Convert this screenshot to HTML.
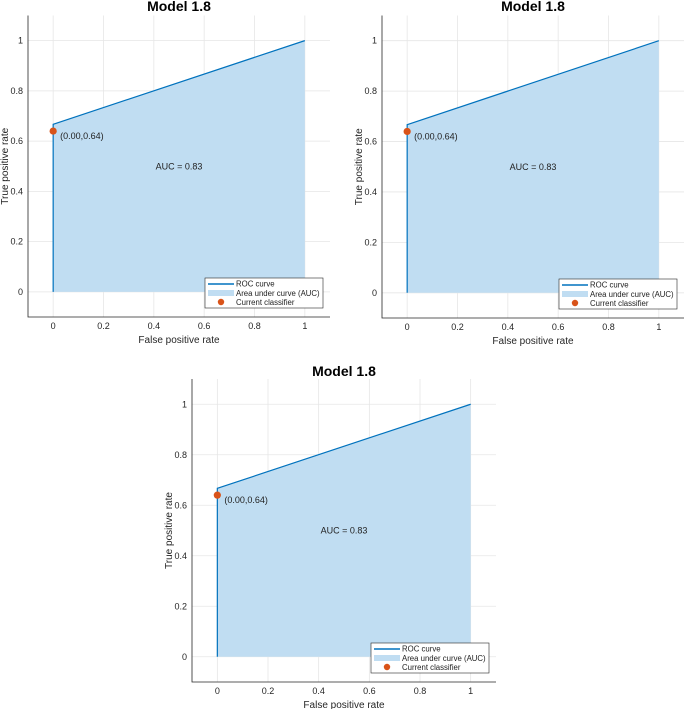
<!DOCTYPE html>
<html><head><meta charset="utf-8">
<style>
html,body{margin:0;padding:0;background:#fff;}
svg{display:block;font-family:"Liberation Sans",Arial,sans-serif;}
</style></head>
<body>
<svg id="chart" width="685" height="709" viewBox="0 0 685 709" xmlns="http://www.w3.org/2000/svg"></svg>
<script>
const rocX = [0, 0, 1];
const rocY = [0, 0.667, 1];
const classifierX = [0];
const classifierY = [0.64];
const classifierLabel = "(0.00,0.64)";
const aucValue = 0.83;
const xTicks = [0, 0.2, 0.4, 0.6, 0.8, 1];
const yTicks = [0, 0.2, 0.4, 0.6, 0.8, 1];
const xTickLabels = ["0", "0.2", "0.4", "0.6", "0.8", "1"];
const yTickLabels = ["0", "0.2", "0.4", "0.6", "0.8", "1"];
const titles = ["Model 1.8", "Model 1.8", "Model 1.8"];

const NS = "http://www.w3.org/2000/svg";
const svg = document.getElementById("chart");
function mk(tag, attrs, parent, text){
  const e = document.createElementNS(NS, tag);
  for (const k in attrs) e.setAttribute(k, attrs[k]);
  if (text !== undefined) e.textContent = text;
  parent.appendChild(e);
  return e;
}
const panels = [
  {left:28, right:330, top:15.5, bottom:317, titleY:11},
  {left:382, right:684, top:15.5, bottom:318, titleY:11},
  {left:192, right:496, top:379, bottom:682, titleY:376}
];
panels.forEach((p, i) => {
  const g = mk("g", {}, svg);
  
  
  const sx = v => p.left + (v + 0.1) / 1.2 * (p.right - p.left);
  const sy = v => p.bottom - (v + 0.1) / 1.2 * (p.bottom - p.top);
  xTicks.forEach(t => {
    const l = mk("line", {x1:sx(t), x2:sx(t), y1:p.top, y2:p.bottom, stroke:"#e6e6e6", "stroke-width":0.8}, g);
    
    
  });
  yTicks.forEach(t => {
    const l = mk("line", {x1:p.left, x2:p.right, y1:sy(t), y2:sy(t), stroke:"#e6e6e6", "stroke-width":0.8}, g);
    
    
  });
  let d = "M" + sx(rocX[0]) + "," + sy(0);
  rocX.forEach((x, k) => d += " L" + sx(x) + "," + sy(rocY[k]));
  d += " L" + sx(rocX[rocX.length-1]) + "," + sy(0) + " Z";
  const area = mk("path", {d:d, fill:"#c0ddf2"}, g);
  
  
  const line = mk("polyline", {points: rocX.map((x,k)=>sx(x)+","+sy(rocY[k])).join(" "), fill:"none", stroke:"#0072bd", "stroke-width":1.2}, g);
  
  
  classifierX.forEach((x, k) => {
    const c = mk("circle", {cx:sx(x), cy:sy(classifierY[k]), r:3.6, fill:"#d95319"}, g);
    
    
    const t = mk("text", {x:sx(x)+7, y:sy(classifierY[k])+8, "font-size":9, fill:"#222"}, g, classifierLabel);
    
    
  });
  const auc = mk("text", {x:sx(0.5), y:sy(0.5)+3, "font-size":9, "text-anchor":"middle", fill:"#222"}, g, "AUC = " + aucValue.toFixed(2));
  
  
  const ax = mk("path", {d:`M${p.left},${p.top} L${p.left},${p.bottom} L${p.right},${p.bottom}`, fill:"none", stroke:"#262626", "stroke-width":0.8}, g);
  
  
  xTicks.forEach((t, k) => {
    const tx = mk("text", {x:sx(t), y:p.bottom+12, "font-size":9, "text-anchor":"middle", fill:"#262626"}, g, xTickLabels[k]);
    
    
  });
  yTicks.forEach((t, k) => {
    const tx = mk("text", {x:p.left-5, y:sy(t)+3, "font-size":9, "text-anchor":"end", fill:"#262626"}, g, yTickLabels[k]);
    
    
  });
  const xl = mk("text", {x:(p.left+p.right)/2, y:p.bottom+26, "font-size":10, "text-anchor":"middle", fill:"#262626"}, g, "False positive rate");
  
  
  const yc = (p.top+p.bottom)/2;
  const yl = mk("text", {x:p.left-20, y:yc, "font-size":10, "text-anchor":"middle", fill:"#262626", transform:`rotate(-90 ${p.left-20} ${yc})`}, g, "True positive rate");
  
  
  const ti = mk("text", {x:(p.left+p.right)/2, y:p.titleY, "font-size":14, "font-weight":"bold", "text-anchor":"middle", fill:"#000"}, g, titles[i]);
  
  
  const lw = 118, lh = 30;
  const lx = p.right - 7 - lw, ly = p.bottom - 9 - lh;
  const lg = mk("g", {}, g);
  
  
  mk("rect", {x:lx, y:ly, width:lw, height:lh, fill:"#fff", stroke:"#262626", "stroke-width":0.6}, lg);
  mk("line", {x1:lx+3, x2:lx+29, y1:ly+6, y2:ly+6, stroke:"#0072bd", "stroke-width":1.5}, lg);
  mk("rect", {x:lx+3, y:ly+12, width:26, height:6, fill:"#c0ddf2"}, lg);
  mk("circle", {cx:lx+16, cy:ly+24, r:3.2, fill:"#d95319"}, lg);
  const names = ["ROC curve", "Area under curve (AUC)", "Current classifier"];
  names.forEach((n, k) => {
    const e = mk("text", {x:lx+31, y:ly+8.5+k*9.3, "font-size":7.8, fill:"#222"}, lg, n);
    
    
  });
});
</script>
</body></html>
